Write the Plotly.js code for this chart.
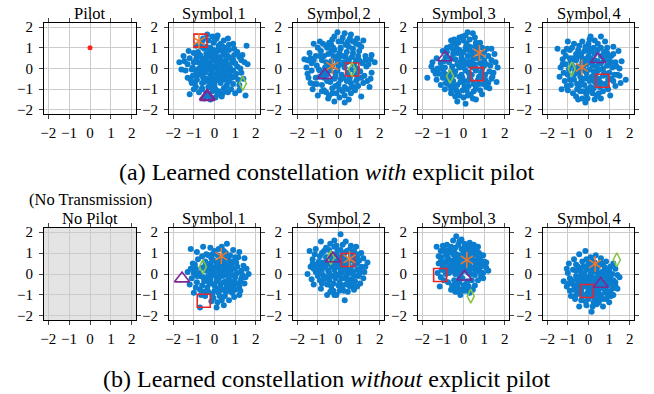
<!DOCTYPE html>
<html><head><meta charset="utf-8">
<script src="https://cdn.plot.ly/plotly-3.0.1.min.js"></script>
<style>html,body{margin:0;padding:0;background:#fff}#c{width:654px;height:394px}</style>
</head><body><div id="c"></div>
<script>
// ---- data ----
const titles = ['Pilot','Symbol 1','Symbol 2','Symbol 3','Symbol 4','No Pilot','Symbol 1','Symbol 2','Symbol 3','Symbol 4'];
const tickVals = [-2,-1,0,1,2];
const tickText = ['−2','−1','0','1','2'];
const pilotX = [0], pilotY = [1];
const a2 = [[-0.35,1.65],[-0.1,1.55],[0.1,1.45],[0.3,1.2],[-0.6,1.3],[-0.9,1.1],[-1.0,0.75],[-1.5,0.6],[-1.7,0.3],[-1.3,0.2],[-1.1,-0.05],[-1.3,-0.45],[-1.1,-0.7],[-0.9,-0.9],[-1.2,-1.25],[-0.6,-1.0],[-0.5,-1.45],[-0.2,-1.5],[0.05,-1.4],[0.2,-1.1],[0.4,-1.2],[0.55,-0.9],[0.8,-1.0],[1.0,-1.2],[1.2,-0.8],[1.5,-1.3],[1.0,-0.4],[1.3,-0.2],[1.6,0.2],[1.3,0.4],[1.1,0.8],[1.55,1.1],[0.9,1.2],[0.7,0.9],[0.5,1.0],[0.8,0.5],[0.6,0.2],[0.3,0.4],[0.1,0.8],[-0.2,1.0],[-0.4,0.7],[-0.6,0.5],[-0.8,0.3],[-0.5,0.1],[-0.3,0.3],[0.0,0.1],[0.2,-0.1],[0.4,-0.3],[0.1,-0.5],[-0.2,-0.3],[-0.4,-0.5],[-0.7,-0.3],[-0.9,-0.1],[-0.6,-0.7],[-0.3,-0.9],[0.0,-0.8],[0.3,-0.7],[0.7,-0.6],[0.9,-0.1],[0.6,-0.35],[1.1,0.1],[0.85,0.3],[0.45,0.65],[0.2,1.1],[-0.05,1.25],[-0.5,0.95],[-0.8,0.8],[-1.2,0.5],[-1.0,0.3],[-0.75,0.0],[-0.45,-0.2],[-0.15,-0.05],[0.05,0.35],[0.35,0.15],[0.65,0.6],[0.95,0.65],[1.25,0.0],[1.4,-0.5],[1.15,-0.55],[0.75,-0.3],[0.5,-0.55],[0.25,-0.35],[-0.05,-0.25],[-0.25,-0.65],[-0.55,-0.45],[-0.85,-0.55],[-1.05,-0.35],[-1.4,-0.1],[-1.25,0.85],[-0.65,1.05],[-0.3,1.35],[0.15,1.6],[0.45,1.35],[0.65,1.45],[-0.15,0.6],[0.25,0.55],[0.55,0.4],[-0.55,0.3],[-0.35,-0.05],[0.15,-0.25],[0.45,-0.95],[0.15,-1.25],[-0.1,-1.1],[-0.4,-1.2],[-0.75,-1.15],[-0.95,-0.7],[0.9,-0.75],[1.2,-1.05],[1.35,0.65],[0.95,0.95],[0.1,0.0],[-0.1,0.45],[-0.6,-0.15],[0.35,0.85],[-0.85,0.55],[-1.45,0.35],[0.75,0.05],[0.55,-0.1],[-0.2,0.2],[0.0,-0.6],[-0.35,0.55],[0.3,-0.5],[1.05,-0.25],[-1.0,-1.0],[0.65,-1.15],[-0.05,0.9],[0.4,1.05],[-0.7,0.65],
[-0.25,0.05],[0.05,0.55],[-0.45,0.45],[0.4,0.3],[0.7,-0.05],[-0.15,-0.45],[0.25,-0.6],[-0.7,-0.05],[-0.9,0.4],[0.2,0.95],[-0.25,0.85],[0.5,0.75],[-1.15,-0.55],[-0.3,-1.3],[0.35,-1.35],[0.85,-0.45],[1.0,0.25],[0.0,1.35],[-0.55,1.45],[-1.05,0.05],[-0.5,-0.65],[0.6,-0.8],[-0.1,-0.65],[0.45,0.05],[-0.35,0.15],[0.9,0.4],[1.2,0.55],[-1.6,-0.05],[0.3,-0.1],[-0.05,0.7],[-0.65,0.15],[0.15,0.2],[-0.85,-0.3],[1.45,0.3],[0.7,1.15],[-0.2,-0.9],[0.5,-0.3],[-0.4,1.05],[0.05,-1.0],[-0.6,-0.95]];
const a3 = [[-1.65,0.45],[-1.5,0.4],[-1.35,0.5],[-1.2,1.2],[-0.9,1.3],[-0.6,1.1],[-0.3,1.4],[-0.05,1.75],[0.2,1.5],[0.45,1.3],[0.6,1.65],[0.9,1.45],[1.1,1.05],[1.3,0.6],[1.55,0.45],[1.75,0.3],[1.6,-0.2],[1.4,-0.6],[1.5,-0.9],[1.1,-1.35],[0.8,-1.05],[0.5,-1.5],[0.3,-1.65],[0.05,-1.4],[-0.2,-1.6],[-0.45,-1.3],[-0.7,-1.05],[-1.0,-1.3],[-1.2,-0.75],[-1.45,-0.45],[-1.3,-0.1],[-1.05,0.15],[-0.8,0.4],[-0.5,0.7],[-0.2,0.9],[0.1,1.0],[0.4,0.8],[0.7,0.95],[0.95,0.6],[1.15,0.25],[1.05,-0.15],[0.9,-0.5],[0.6,-0.7],[0.3,-0.9],[0.0,-0.75],[-0.3,-0.95],[-0.55,-0.6],[-0.9,-0.4],[-1.1,-0.45],[-0.65,0.05],[-0.35,0.35],[0.0,0.45],[0.25,0.3],[0.5,0.4],[0.75,0.2],[0.45,-0.2],[0.15,-0.3],[-0.15,-0.2],[-0.4,-0.1],[-0.25,0.6],[0.05,0.75],[0.35,1.15],[-0.55,1.0],[-0.85,0.85],[-1.1,0.6],[-1.3,0.25],[1.25,-0.35],[1.35,0.1],[0.85,1.2],[0.2,-1.1],[-0.1,-1.2],[0.6,-1.2],[0.95,-0.85],[-0.8,-0.8],[-1.25,-1.0],[-0.5,-1.45],[1.2,1.35],[1.0,0.85],[0.65,0.55],[0.3,0.05],[0.0,0.15],[-0.2,-0.5],[-0.45,0.2],[-0.75,-0.2],[0.1,-0.55],[0.55,-0.45],[0.8,-0.25],[1.45,0.2],[-1.0,1.0],[-0.35,1.15],[0.0,1.3],[0.5,1.05],[-0.7,0.6],[-0.95,-0.05],[-1.55,0.05],[-0.15,-0.85],[0.4,-0.6],[0.75,-0.9],[1.2,-0.7],[0.2,0.6],[-0.05,0.25],[-0.55,-0.3],[0.85,0.4],[1.6,0.65],[-0.25,1.0],[0.3,-1.3],[-0.6,-1.15],[-1.35,-0.7],[0.7,1.3],[-0.15,0.5],
[-0.3,0.1],[0.2,0.2],[-0.05,0.6],[0.35,0.55],[-0.6,0.3],[-0.9,0.6],[0.7,0.75],[1.0,0.4],[0.6,-0.05],[0.25,-0.45],[-0.15,-0.4],[-0.4,-0.65],[-0.7,-0.45],[-1.05,-0.75],[-0.3,-1.2],[0.45,-1.0],[0.85,-0.6],[1.1,-0.45],[1.3,0.4],[0.15,1.3],[-0.45,1.25],[-0.75,1.2],[-1.2,0.4],[-0.35,0.85],[0.55,1.45],[1.0,1.15],[0.9,0.0],[-0.05,-0.1],[0.05,-1.0],[-0.9,-0.1],[0.1,0.95],[-0.55,-0.05],[0.4,0.3],[-1.5,-0.25],[1.55,-0.5],[-0.2,1.55],[0.3,1.7],[-1.4,0.75],[0.65,-0.9],[-0.8,-1.1]];
const a4 = [[0.2,1.75],[0.45,1.7],[-0.2,1.5],[0.0,1.35],[-0.5,1.2],[0.3,1.4],[0.6,1.25],[0.9,1.0],[-0.8,1.0],[-1.0,0.85],[-1.5,0.3],[-1.3,0.5],[-1.75,-0.45],[-1.45,-0.1],[-1.2,-0.25],[-1.1,-0.8],[-0.9,-1.0],[-0.6,-1.2],[-0.4,-1.35],[-0.3,-1.6],[0.1,-1.7],[0.35,-1.25],[0.6,-1.5],[0.8,-1.05],[1.1,-0.9],[1.35,-0.5],[1.6,-0.65],[1.45,-0.2],[1.65,0.05],[1.55,0.3],[1.5,0.7],[1.2,0.6],[1.3,0.15],[1.0,0.4],[0.7,0.5],[0.4,0.8],[0.1,1.0],[-0.2,0.9],[-0.5,0.7],[-0.7,0.3],[-0.9,0.05],[-0.6,-0.15],[-0.3,0.2],[0.0,0.4],[0.3,0.15],[0.55,0.2],[0.9,0.0],[1.05,-0.3],[0.75,-0.4],[0.4,-0.3],[0.1,-0.1],[-0.2,-0.4],[-0.5,-0.6],[-0.8,-0.5],[-0.3,-0.8],[0.0,-0.6],[0.25,-0.85],[0.5,-0.75],[0.75,-0.75],[1.05,-0.55],[-0.05,-1.05],[-0.35,-1.05],[0.2,-1.3],[0.5,-1.1],[-0.7,-0.8],[-1.0,-0.45],[-1.3,-0.55],[-1.1,0.25],[-0.85,0.55],[-0.4,0.45],[-0.1,0.65],[0.2,0.6],[0.5,0.5],[0.8,0.25],[1.15,0.95],[1.35,0.95],[0.8,1.25],[0.55,1.05],[0.15,1.2],[-0.35,1.0],[-0.65,1.05],[-0.15,0.3],[0.15,0.3],[0.35,-0.55],[-0.45,-0.3],[0.6,-0.1],[0.95,-0.75],[1.25,-0.15],[1.35,0.4],[-0.25,1.25],[0.0,0.8],[-0.55,0.1],[0.25,-0.2],[-0.1,-0.3],[0.45,-1.45],[-0.2,-1.3],[-0.6,-1.0],[-0.95,-0.2],[-1.25,0.0],[0.65,0.8],[0.85,0.6],[1.0,0.15],[-0.75,-0.3],[0.05,-0.85],[0.85,-0.2],[0.4,0.35],[1.2,-0.7],[-0.5,0.9],[0.3,1.05],[-0.05,1.55],[0.7,-0.55],
[-0.1,0.5],[0.25,0.9],[0.45,0.6],[-0.3,0.75],[-0.6,0.5],[0.05,0.2],[0.6,0.0],[0.85,-0.45],[0.3,-0.4],[-0.05,-0.45],[-0.4,-0.15],[-0.65,-0.45],[-0.15,-0.65],[0.15,-1.05],[0.6,-0.95],[-0.5,-0.85],[-0.85,-0.7],[-1.05,0.0],[-0.8,0.8],[-0.45,1.4],[0.1,1.6],[0.7,1.05],[1.1,0.2],[1.4,-0.4],[1.25,-0.95],[0.9,0.7],[0.3,0.35],[-0.2,0.05],[0.45,0.05],[-0.3,-1.15],[0.0,-1.4],[0.9,-1.25],[-1.35,-0.25],[-1.55,0.1],[1.0,0.8],[-0.95,0.35],[0.2,-0.6],[-0.6,1.35],[0.55,1.5],[0.0,0.05]];
const a5 = [[0.1,1.55],[0.6,1.55],[-0.3,1.3],[0.0,1.2],[0.3,1.35],[-0.7,1.2],[-1.0,1.3],[-1.5,0.95],[-1.2,0.8],[-0.9,0.9],[-0.5,0.9],[-0.2,0.85],[0.25,1.0],[0.6,1.0],[0.9,1.0],[1.2,1.05],[1.45,0.85],[1.1,0.6],[0.8,0.55],[1.3,0.3],[1.5,0.0],[1.4,-0.3],[1.8,-0.55],[1.3,-0.85],[1.1,-0.5],[0.95,-1.0],[0.6,-1.45],[0.3,-1.5],[-0.15,-1.65],[-0.5,-1.5],[-0.75,-1.2],[-0.4,-1.1],[-1.0,-1.05],[-1.3,-1.0],[-1.15,-0.6],[-1.4,-0.4],[-1.35,0.05],[-1.1,0.2],[-0.9,0.5],[-0.6,0.4],[-0.3,0.5],[0.0,0.6],[0.3,0.7],[0.6,0.25],[0.9,0.15],[1.0,-0.2],[0.7,-0.35],[0.45,-0.1],[0.2,0.15],[-0.1,0.2],[-0.5,0.1],[-0.7,-0.3],[-1.0,-0.3],[-0.4,-0.4],[-0.1,-0.2],[0.15,-0.4],[0.35,-0.7],[0.1,-0.9],[-0.2,-0.8],[-0.55,-0.75],[-0.85,-0.8],[0.55,-0.9],[0.8,-0.75],[1.05,-1.3],[0.2,-1.2],[-0.1,-1.25],[0.45,1.2],[-0.45,1.1],[0.75,0.8],[1.0,0.35],[-0.8,0.15],[-1.2,-0.2],[-0.25,0.0],[0.05,-0.05],[0.3,0.4],[-0.6,0.7],[0.15,0.85],[0.5,-0.5],[1.25,-0.3],[1.2,0.7],[-0.3,-1.45],[0.4,-1.3],[-0.7,-0.55],[-0.95,-0.05],[0.7,0.0],[-0.15,0.45],[0.95,-0.55],[1.55,-0.7],[-1.25,0.45],[0.0,1.0],[0.35,-0.25],[-0.35,-0.6],[0.6,0.6],[0.05,-0.6],[-0.5,-0.2],[1.6,0.35],[-0.8,1.0],[0.8,1.3],[0.1,0.3],[-0.05,-1.0],[0.25,-0.95],[0.85,-0.3],[-1.1,0.6],[0.4,0.1],[-0.2,-0.5],[0.7,-1.1],[-0.55,-1.0],[1.15,0.05],
[-0.3,0.3],[0.1,0.5],[0.45,0.35],[0.75,0.4],[-0.55,0.55],[-0.85,0.35],[-1.05,0.95],[-0.35,0.7],[0.05,0.8],[0.45,0.9],[0.9,0.75],[1.1,0.3],[0.75,-0.2],[0.25,-0.15],[-0.2,-0.1],[-0.65,-0.1],[-0.9,-0.55],[-0.45,-0.85],[-0.1,-0.45],[0.25,-0.6],[0.6,-0.7],[0.15,-1.1],[-0.25,-1.1],[-0.6,-1.35],[0.5,-1.2],[0.9,-0.9],[1.2,-0.6],[1.35,0.1],[1.0,0.6],[-1.25,0.2],[-1.05,-0.85],[0.05,1.4],[-0.15,1.05],[0.5,-0.05],[-0.4,0.0],[0.0,0.35],[0.3,-0.4],[-0.75,0.5],[1.5,-0.35],[-0.05,-1.45]];
const b2 = [[0.6,1.45],[0.35,1.3],[-0.55,1.3],[-1.15,1.2],[-0.85,1.05],[-0.4,0.95],[0.0,1.1],[0.15,0.9],[0.55,1.0],[0.9,1.15],[1.2,1.05],[1.45,0.75],[1.0,0.8],[0.7,0.65],[0.4,0.6],[0.1,0.55],[-0.2,0.5],[-0.45,0.6],[-0.8,0.7],[-1.05,0.5],[-1.3,0.1],[-1.0,0.05],[-0.7,-0.1],[-0.4,0.15],[-0.1,0.2],[0.2,0.25],[0.5,0.3],[0.8,0.2],[1.1,0.35],[1.4,0.4],[1.65,0.0],[1.3,-0.2],[1.0,-0.15],[0.7,-0.25],[0.4,-0.1],[0.1,-0.15],[-0.2,-0.25],[-0.5,-0.35],[-0.85,-0.4],[-1.2,-0.5],[-1.0,-0.9],[-0.7,-0.75],[-0.35,-0.65],[0.0,-0.55],[0.3,-0.5],[0.6,-0.6],[0.9,-0.55],[1.2,-0.6],[1.45,-0.45],[1.2,-1.0],[0.85,-0.9],[0.5,-1.05],[0.2,-0.9],[-0.1,-0.95],[-0.45,-1.05],[-0.7,-1.6],[0.1,-1.6],[0.45,-1.5],[0.35,-1.25],[-0.15,-1.3],[0.7,-1.25],[0.55,-0.35],[0.25,0.0],[-0.05,-0.05],[-0.3,-0.1],[0.0,0.3],[0.35,0.4],[0.65,0.05],[0.95,-0.35],[1.1,0.05],[1.3,0.15],[0.85,0.5],[0.45,0.85],[0.2,1.2],[-0.15,0.75],[-0.6,0.3],[-0.9,0.25],[-1.1,-0.2],[-0.6,-0.55],[-0.25,-0.45],[0.1,-0.35],[0.4,-0.75],[0.7,-0.8],[1.0,-0.75],[-0.9,-0.65],[1.55,0.25],[-0.2,1.25],[0.75,0.9],[1.05,0.55],[0.3,0.7],[-0.35,0.35],[-0.75,0.05],[0.55,0.5],[0.85,-0.05],[1.25,-0.35],[0.15,-0.7],[-0.5,-0.85],[-0.05,-1.15],[0.95,-1.1],[-0.3,0.9],[1.5,-0.15],[0.6,-0.05],[-0.15,0.05],[0.25,-1.05],
[0.3,0.1],[0.05,0.05],[-0.15,0.35],[0.5,0.15],[0.75,0.35],[0.95,0.25],[0.6,0.7],[0.25,0.5],[-0.05,0.65],[-0.45,0.4],[-0.85,-0.1],[-0.55,-0.15],[-0.15,-0.45],[0.2,-0.25],[0.45,-0.4],[0.8,-0.45],[1.05,-0.45],[1.35,-0.05],[0.55,-0.85],[0.3,-0.65],[0.0,-0.8],[-0.3,-0.85],[-0.65,-1.0],[0.15,-1.35],[0.85,-0.65],[1.15,0.8],[0.45,1.1],[-0.1,0.95],[-0.6,0.85],[-0.95,0.45],[-1.15,0.25],[0.7,-0.4],[0.1,0.4],[0.9,0.6],[0.4,-1.1],[-0.4,-0.3],[1.25,-0.8],[0.6,0.25],[-0.25,0.15],[1.0,-0.05]];
const b3 = [[0.1,1.9],[-0.85,1.55],[0.35,1.55],[-0.4,1.45],[-0.2,1.3],[0.6,1.35],[0.85,1.3],[-1.1,1.2],[-1.4,1.1],[-0.7,1.1],[0.1,1.15],[0.4,1.1],[1.1,1.0],[0.9,0.85],[0.6,0.9],[0.2,0.9],[-0.1,0.95],[-0.55,0.8],[-0.9,0.85],[-1.25,0.7],[-1.05,0.45],[-0.75,0.55],[-0.4,0.5],[-0.1,0.6],[0.2,0.55],[0.5,0.4],[0.8,0.45],[1.1,0.35],[1.4,0.55],[1.25,0.1],[1.2,-0.2],[0.95,-0.1],[0.7,0.1],[0.4,0.15],[0.1,0.25],[-0.2,0.2],[-0.5,0.15],[-0.8,0.2],[-1.1,0.1],[-1.5,0.0],[-1.3,-0.25],[-1.2,-0.5],[-0.9,-0.3],[-0.6,-0.15],[-0.3,-0.1],[0.0,-0.05],[0.3,-0.2],[0.6,-0.25],[0.9,-0.6],[0.65,-0.55],[0.35,-0.5],[0.05,-0.4],[-0.25,-0.45],[-0.55,-0.5],[-0.85,-0.7],[-0.55,-1.0],[-0.25,-0.8],[0.05,-0.8],[0.3,-1.25],[0.45,-0.85],[-0.1,-1.0],[0.15,0.05],[-0.35,0.35],[-0.65,0.35],[0.3,0.75],[0.65,0.65],[1.0,0.65],[-0.95,0.6],[-1.35,0.35],[-0.15,0.4],[0.25,0.35],[0.55,0.05],[0.8,-0.35],[1.05,-0.45],[-0.45,-0.3],[-0.75,-0.05],[-1.0,-0.1],[0.0,0.8],[-0.3,0.75],[0.5,1.15],[-0.6,1.25],[0.75,1.1],[1.2,0.75],[-1.15,0.95],[0.1,-0.6],[-0.15,-0.2],[0.4,-0.05],[-0.45,0.05],[-0.05,1.1],[0.9,0.2],[0.6,0.3],[-0.8,-0.45],[0.2,-0.55],[0.35,0.5],[-0.2,1.6],[0.0,0.45],[-0.55,0.6],[1.0,0.0],[-1.2,0.25],[0.75,-0.75],
[-0.1,0.35],[0.2,0.4],[0.45,0.55],[0.05,0.6],[-0.35,0.55],[-0.6,0.45],[-0.85,0.35],[-0.3,0.95],[0.3,1.0],[0.7,0.8],[0.9,0.5],[1.05,0.2],[0.75,-0.1],[0.45,-0.3],[0.15,-0.2],[-0.15,0.0],[-0.5,-0.15],[-0.7,-0.25],[-1.05,0.3],[-0.35,-0.6],[0.0,-0.55],[0.25,-0.8],[0.55,-0.6],[-0.8,1.0],[-0.45,1.15],[0.2,1.4],[-0.1,1.35],[0.6,1.1],[1.3,0.35],[0.95,0.95],[-1.25,0.5],[-0.2,-1.0],[-0.6,0.8],[0.35,0.2],[-0.25,0.55],[0.8,0.65],[-0.95,0.05],[0.1,0.1],[0.6,-0.45],[-0.4,-0.85]];
const b4 = [[-0.35,1.8],[-0.5,1.6],[-0.2,1.55],[0.3,1.5],[0.05,1.45],[0.5,1.4],[0.7,1.3],[-0.8,1.4],[-1.0,1.35],[-1.3,1.3],[-1.1,1.1],[-0.7,1.15],[-0.4,1.25],[-0.1,1.2],[0.2,1.2],[0.45,1.1],[0.75,1.0],[0.95,0.9],[1.0,0.6],[0.7,0.75],[0.4,0.85],[0.1,0.95],[-0.2,0.9],[-0.5,0.95],[-0.8,0.9],[-1.05,0.8],[-1.1,0.6],[-0.85,0.6],[-0.6,0.65],[-0.3,0.6],[0.0,0.7],[0.3,0.55],[0.6,0.45],[0.85,0.35],[1.1,0.3],[1.2,0.15],[0.95,0.05],[0.7,0.2],[0.4,0.25],[0.15,0.3],[-0.15,0.35],[-0.45,0.3],[-0.75,0.35],[-0.95,0.2],[-1.25,0.05],[-1.1,-0.15],[-0.7,0.05],[-0.4,0.0],[-0.1,0.1],[0.25,0.05],[0.55,-0.05],[0.95,-0.2],[0.7,-0.3],[0.4,-0.3],[-0.45,-0.3],[-0.2,-0.4],[-0.55,-0.55],[-0.3,-0.6],[0.0,-0.55],[0.25,-0.6],[0.45,-0.75],[0.3,-0.9],[0.05,-0.8],[-0.15,-1.0],[-0.4,-0.85],[-0.6,-0.75],[-1.15,-0.6],[-0.2,-0.2],[0.2,-0.35],[-0.55,0.15],[-0.25,0.8],[0.55,0.95],[0.2,0.75],[-0.9,1.05],[-0.6,1.3],[0.0,1.05],[0.85,0.6],[0.5,0.65],[-0.35,0.45],[-0.65,0.45],[0.0,0.45],[-1.0,0.4],[0.6,0.15],[-0.05,-0.2],[-0.85,0.0],[0.35,1.3],[-0.1,1.65],[1.05,0.45],[-0.45,1.05],[0.15,1.35],[-1.2,0.85],[0.75,0.5],[-0.3,0.2],[0.1,0.15],[-0.75,-0.4],[0.15,-0.45],[0.85,-0.1],[-0.95,-0.3],[-0.4,0.75],[0.3,0.4],
[-0.2,0.5],[0.1,0.55],[0.35,0.7],[-0.5,0.5],[-0.75,0.75],[-0.35,0.95],[0.0,0.85],[0.25,1.0],[0.6,0.6],[0.9,0.45],[0.5,0.3],[0.2,0.2],[-0.1,0.25],[-0.35,0.1],[-0.6,0.2],[-0.9,0.5],[-1.05,0.2],[-0.25,1.4],[0.45,1.2],[-0.6,1.05],[-0.95,1.2],[0.05,1.25],[0.65,1.1],[0.8,0.8],[1.1,0.55],[-0.15,-0.1],[0.35,0.0],[-0.35,-0.45],[0.1,-0.65],[-0.1,-0.75],[-0.5,-0.7],[0.2,-0.8],[-0.3,-0.85],[0.55,-0.55],[-0.8,0.15],[-1.2,0.5],[0.8,0.1],[-0.45,0.6],[0.15,0.45],[-0.15,0.75]];
const b5 = [[-0.15,1.1],[0.35,0.9],[-0.45,0.95],[0.1,0.8],[0.6,0.75],[0.85,0.6],[-0.7,0.7],[-0.95,0.5],[-0.6,0.45],[-0.3,0.6],[0.0,0.5],[0.5,0.4],[0.8,0.3],[1.05,0.35],[1.3,0.25],[1.15,0.0],[1.5,-0.15],[1.3,-0.4],[1.0,-0.25],[0.75,-0.05],[0.45,0.05],[0.2,0.1],[-0.1,0.2],[-0.4,0.15],[-0.75,0.2],[-1.0,0.05],[-1.2,-0.35],[-0.9,-0.2],[-0.6,-0.1],[-0.3,-0.2],[0.0,-0.15],[0.3,-0.3],[0.6,-0.2],[0.9,-0.55],[1.15,-0.7],[1.4,-0.7],[1.2,-1.0],[1.0,-1.35],[0.7,-1.55],[0.4,-1.45],[0.15,-1.8],[-0.1,-1.5],[-0.45,-1.55],[-0.65,-1.2],[-0.9,-0.8],[-0.7,-0.55],[-0.4,-0.5],[-0.1,-0.6],[0.2,-0.7],[0.5,-0.75],[0.8,-0.9],[0.55,-1.15],[0.25,-1.1],[0.0,-1.2],[-0.3,-1.05],[-0.5,-0.85],[0.1,-0.95],[0.4,-0.95],[0.7,-1.2],[0.95,-1.05],[1.3,-0.55],[0.35,-1.25],[-0.2,-0.35],[0.15,-0.45],[0.45,-0.45],[-0.55,-0.3],[-0.8,-0.45],[-0.2,0.05],[0.25,0.3],[0.65,0.1],[0.95,0.05],[1.2,0.5],[-1.05,-0.6],[0.85,-0.35],[0.6,-0.55],[-0.05,-0.9],[-0.35,-0.75],[0.3,0.55],[-0.5,0.35],[0.7,0.45],[0.0,-0.35],[1.05,-0.85],[0.5,-1.35],[-0.15,-1.3],[-0.85,-1.05],[0.2,-1.55],[1.4,-0.05],[0.1,0.0],[-0.25,0.35],[-0.7,-0.75],[0.35,-0.55],[0.75,-0.7],[0.0,-0.7],[-0.35,-0.95],[0.6,-1.0],[-1.05,0.25],[0.9,-0.2],[0.15,0.65],[-0.45,-0.15],[1.1,-0.45],
[0.1,-0.3],[0.4,-0.15],[0.6,-0.35],[0.3,-0.5],[0.0,-0.5],[-0.25,-0.6],[-0.5,-0.5],[-0.3,-0.4],[0.2,-0.9],[0.45,-0.65],[0.7,-0.5],[0.85,-0.75],[0.35,-0.85],[0.05,-1.05],[-0.2,-1.0],[-0.55,-0.65],[-0.8,-0.3],[-0.35,0.0],[0.05,0.25],[0.4,0.25],[0.75,0.15],[1.05,-0.1],[1.2,-0.3],[0.5,-1.0],[0.85,-1.2],[0.25,-1.35],[-0.35,-1.25],[-0.6,-1.0],[-0.95,-0.45],[0.6,0.55],[-0.1,0.7],[0.2,0.45],[-0.6,0.15],[1.0,0.15],[0.15,-0.15],[0.55,-0.05],[-0.15,-0.15],[0.8,-0.1],[-0.05,0.4],[1.1,-1.05]];
const clouds = [null,a2,a3,a4,a5,null,b2,b3,b4,b5];
// learned symbol markers per panel (null = none)
const sqX = [null,-0.68,0.66,0.65,0.67,null,-0.52,0.45,-1.13,-0.08];
const sqY = [null,1.35,-0.05,-0.27,-0.59,null,-1.28,0.67,-0.05,-0.81];
const stX = [null,-0.75,-0.30,0.77,-0.32,null,0.33,0.53,0.16,0.32];
const stY = [null,1.32,0.11,0.75,0.05,null,0.86,0.72,0.68,0.48];
const dmX = [null,1.37,0.66,-0.65,-0.81,null,-0.56,-0.37,0.35,1.37];
const dmY = [null,-0.72,-0.05,-0.37,-0.03,null,0.35,0.78,-1.06,0.68];
const trX = [null,-0.35,-0.66,-0.89,0.46,null,-1.57,-0.27,0.05,0.59];
const trY = [null,-1.36,-0.32,0.53,0.45,null,-0.22,0.74,-0.13,-0.48];

// ---- layout geometry ----
const W=654,H=394;
const colPx=[[44,136],[169,260],[293,384],[418,509],[543,634]];
const rowPx=[[23,114],[228,320]];
const FONT='Liberation Serif';
const BLUE='#0b7dcf', RED='#e5262d', ORANGE='#f0782a', GREEN='#86c440', PURPLE='#7e2790';

const traces=[]; const layout={width:W,height:H,margin:{l:0,r:0,t:0,b:0},showlegend:false,
  paper_bgcolor:'#fff',plot_bgcolor:'rgba(0,0,0,0)',font:{family:FONT,color:'#000'},annotations:[],shapes:[]};

for(let i=0;i<10;i++){
  const r=Math.floor(i/5), c=i%5, n=i+1;
  const xa='x'+(n===1?'':n), ya='y'+(n===1?'':n);
  const ax={range:[-2.2,2.2],tickvals:tickVals,ticktext:tickText,showgrid:true,gridcolor:'#cccccc',gridwidth:1,
    zeroline:false,showline:true,linecolor:'#000',linewidth:1,mirror:'ticks',ticks:'outside',ticklen:4,tickcolor:'#444',
    tickfont:{family:FONT,size:15,color:'#000'},fixedrange:true};
  layout['xaxis'+(n===1?'':n)]=Object.assign({},ax,{domain:[colPx[c][0]/W,colPx[c][1]/W],anchor:ya,ticklabelstandoff:1});
  layout['yaxis'+(n===1?'':n)]=Object.assign({},ax,{domain:[1-rowPx[r][1]/H,1-rowPx[r][0]/H],anchor:xa,ticklabelstandoff:3});
  layout.annotations.push({text:titles[i],xref:'paper',yref:'paper',x:(colPx[c][0]+colPx[c][1])/2/W,
    y:1-(rowPx[r][0]-10)/H,xanchor:'center',yanchor:'middle',showarrow:false,font:{family:FONT,size:16.5,color:'#000'}});
  if(i===5){
    traces.push({type:'scatter',mode:'markers',x:[],y:[],xaxis:xa,yaxis:ya});
    layout.shapes.push({type:'rect',xref:xa,yref:ya,x0:-2.2,x1:2.2,y0:-2.2,y1:2.2,fillcolor:'#e4e4e4',line:{width:0},layer:'below'});
  }
  if(i===0){
    traces.push({type:'scatter',mode:'markers',x:pilotX,y:pilotY,xaxis:xa,yaxis:ya,marker:{color:'#ff1f1f',size:5}});
  }
  const cl=clouds[i];
  if(cl){
    traces.push({type:'scatter',mode:'markers',x:cl.map(p=>p[0]),y:cl.map(p=>p[1]),xaxis:xa,yaxis:ya,
      marker:{color:BLUE,size:6,line:{width:0}}});
    traces.push({type:'scatter',mode:'markers',x:[sqX[i]],y:[sqY[i]],xaxis:xa,yaxis:ya,marker:{symbol:'square-open',size:13,color:RED,line:{width:1.6}}});
    traces.push({type:'scatter',mode:'markers',x:[stX[i],stX[i]],y:[stY[i],stY[i]],xaxis:xa,yaxis:ya,marker:{symbol:['y-up-open','y-down-open'],size:10,color:ORANGE,line:{width:1.5,color:ORANGE}}});
    traces.push({type:'scatter',mode:'markers',x:[dmX[i]],y:[dmY[i]],xaxis:xa,yaxis:ya,marker:{symbol:'diamond-tall-open',size:10,color:GREEN,line:{width:1.5}}});
    traces.push({type:'scatter',mode:'markers',x:[trX[i]],y:[trY[i]],xaxis:xa,yaxis:ya,marker:{symbol:'triangle-up-open',size:13,color:PURPLE,line:{width:i===1?2.5:1.6}}});
  }
}
layout.annotations.push({text:'(No Transmission)',xref:'paper',yref:'paper',x:(colPx[0][0]+colPx[0][1])/2/W,y:1-199/H,
  xanchor:'center',yanchor:'middle',showarrow:false,font:{family:FONT,size:16.5,color:'#000'}});
layout.annotations.push({text:'(a) Learned constellation <i>with</i> explicit pilot',xref:'paper',yref:'paper',x:327/W,y:1-172/H,
  xanchor:'center',yanchor:'middle',showarrow:false,font:{family:FONT,size:24,color:'#000'}});
layout.annotations.push({text:'(b) Learned constellation <i>without</i> explicit pilot',xref:'paper',yref:'paper',x:327/W,y:1-379/H,
  xanchor:'center',yanchor:'middle',showarrow:false,font:{family:FONT,size:24,color:'#000'}});

Plotly.newPlot('c',traces,layout,{staticPlot:true,displayModeBar:false});
</script></body></html>
